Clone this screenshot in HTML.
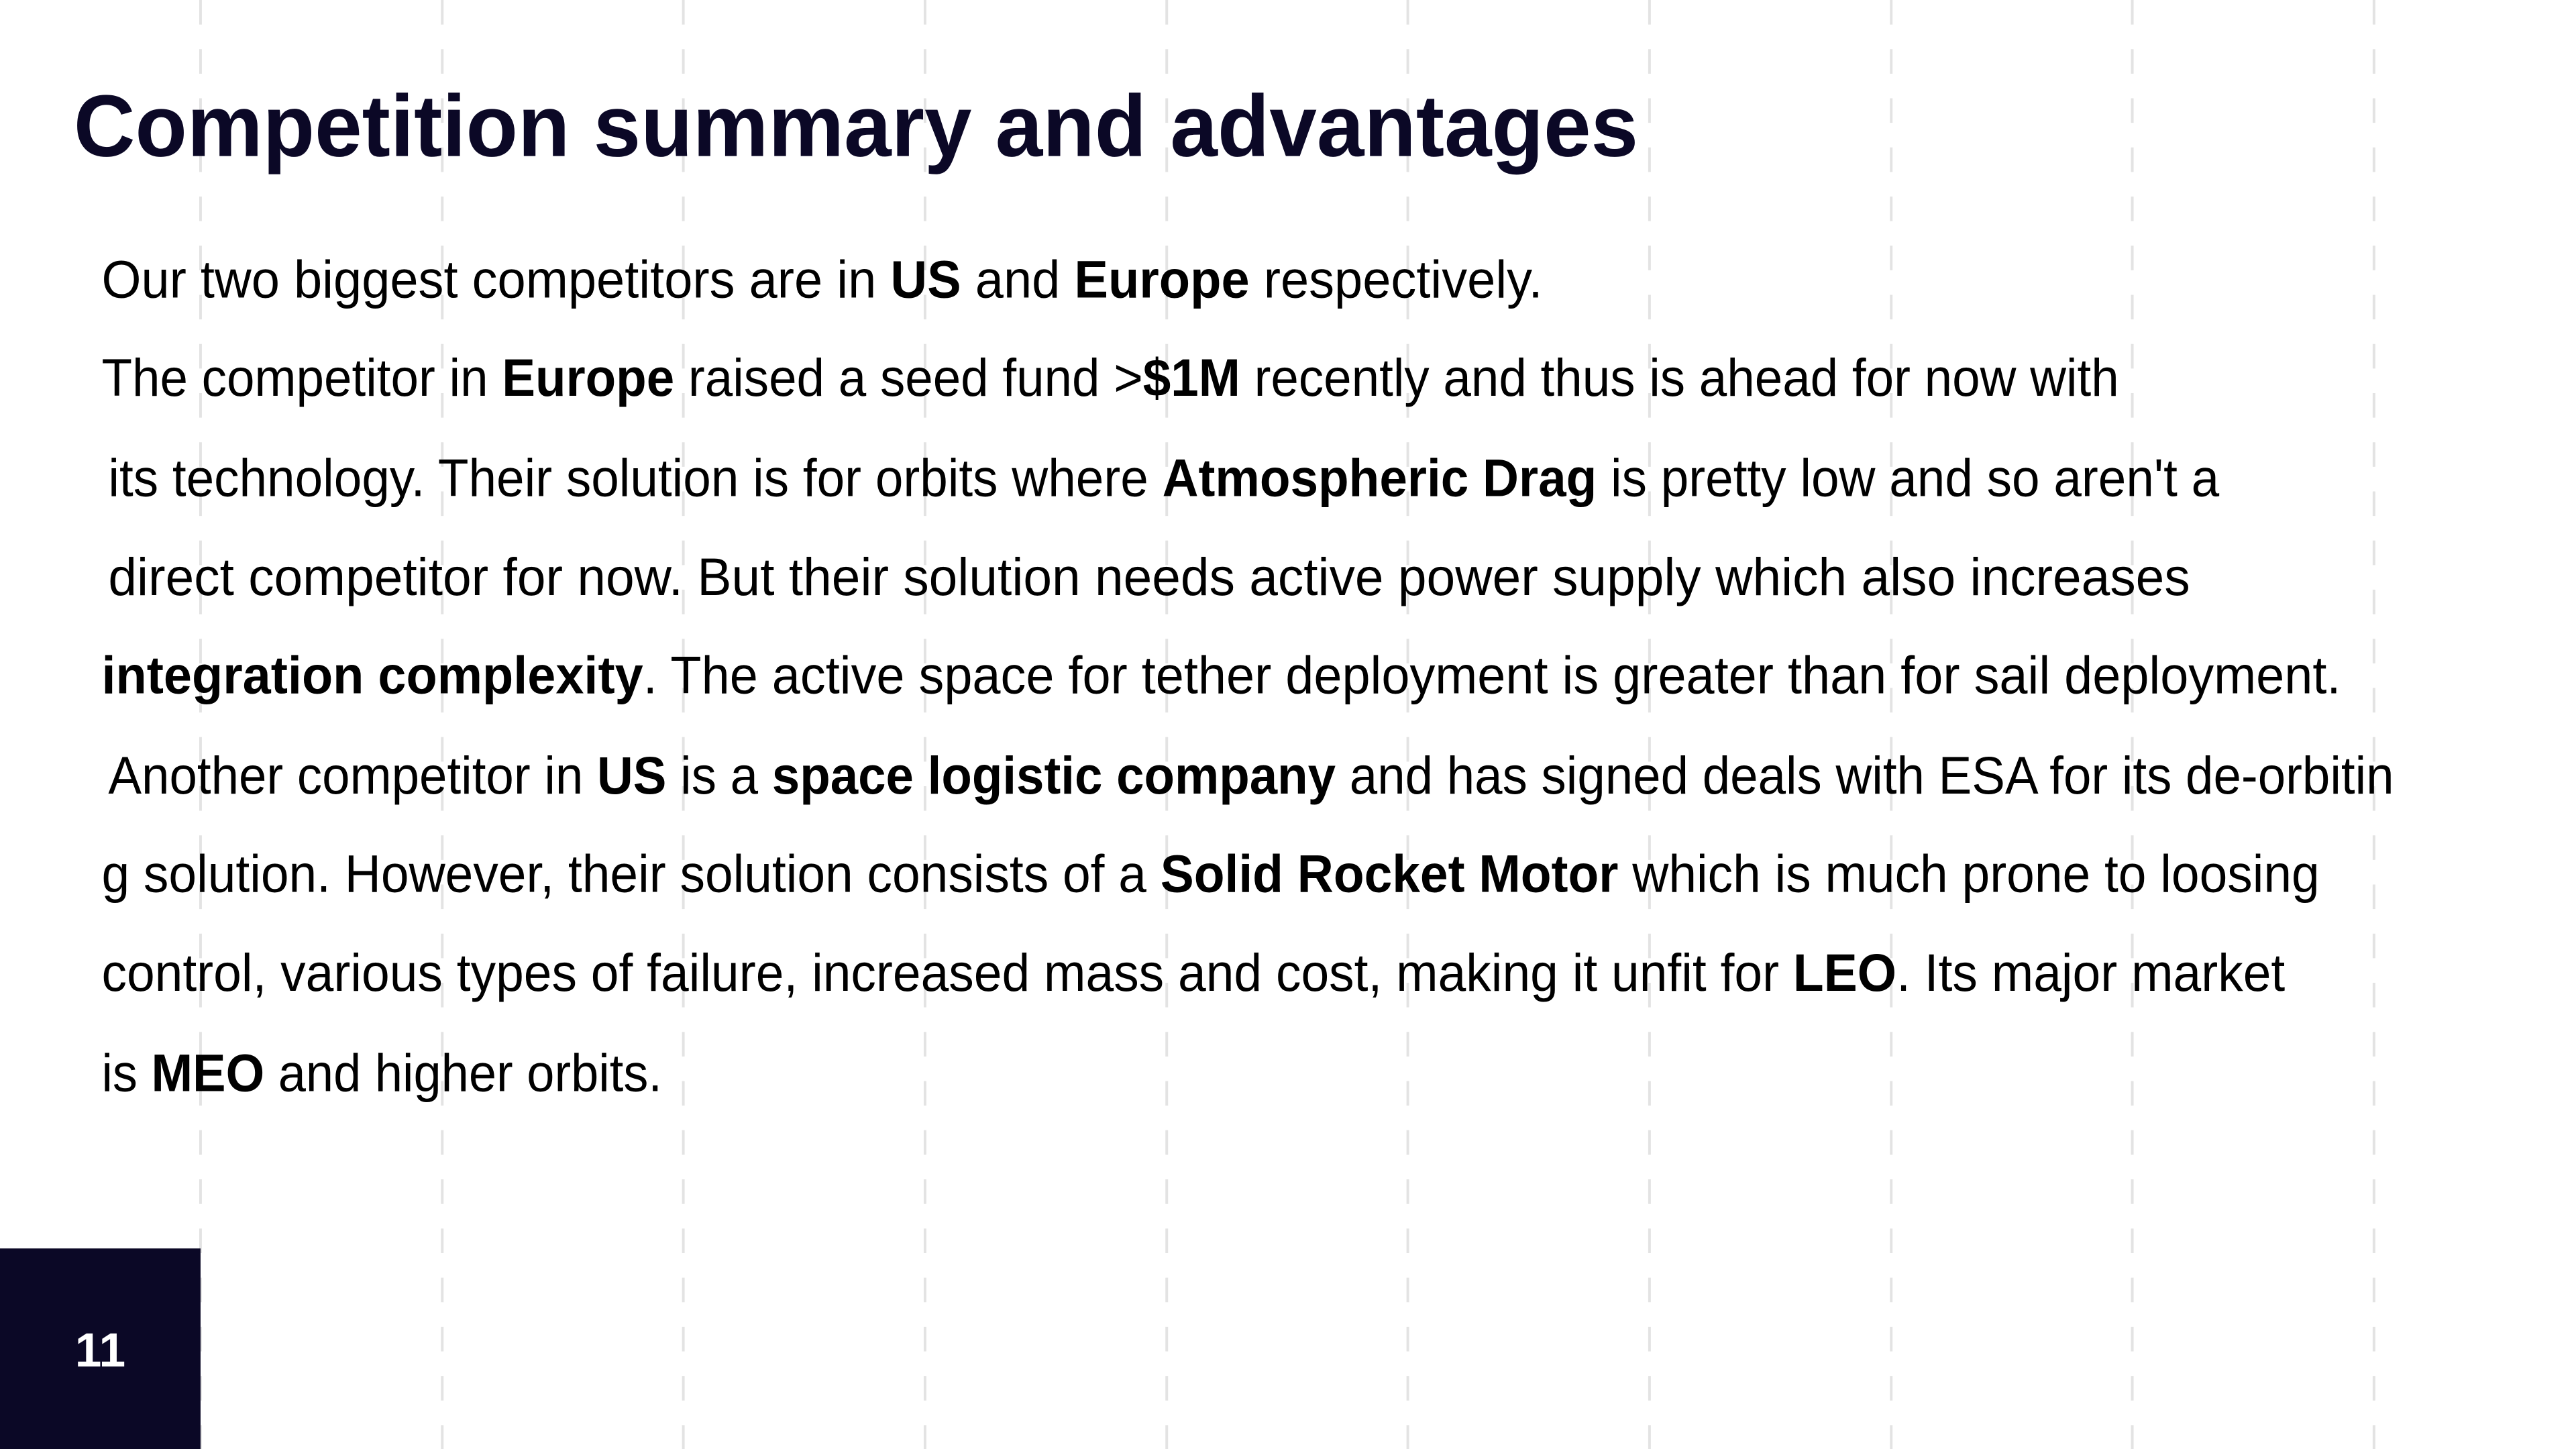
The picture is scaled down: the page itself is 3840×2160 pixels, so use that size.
<!DOCTYPE html>
<html><head><meta charset="utf-8"><style>
html,body{margin:0;padding:0;background:#fff;}
svg{display:block;}
text{font-family:"Liberation Sans",sans-serif;}
</style></head><body>
<svg width="3840" height="2160" viewBox="0 0 3840 2160" xmlns="http://www.w3.org/2000/svg">
<rect width="3840" height="2160" fill="#fff"/>
<g transform="scale(0.9899)">
<g stroke="#e3e3e3" stroke-width="4" stroke-dasharray="37 37">
<line x1="302" y1="0" x2="302" y2="2200"/>
<line x1="666" y1="0" x2="666" y2="2200"/>
<line x1="1029" y1="0" x2="1029" y2="2200"/>
<line x1="1393" y1="0" x2="1393" y2="2200"/>
<line x1="1757" y1="0" x2="1757" y2="2200"/>
<line x1="2120" y1="0" x2="2120" y2="2200"/>
<line x1="2484" y1="0" x2="2484" y2="2200"/>
<line x1="2848" y1="0" x2="2848" y2="2200"/>
<line x1="3211" y1="0" x2="3211" y2="2200"/>
<line x1="3575" y1="0" x2="3575" y2="2200"/>
</g>
<text x="111" y="235" font-size="132" font-weight="bold" fill="#0b0826" textLength="2356" lengthAdjust="spacingAndGlyphs">Competition summary and advantages</text>
<g font-size="80" fill="#000">
<text x="153" y="448" textLength="2170" lengthAdjust="spacingAndGlyphs">Our two biggest competitors are in <tspan font-weight="bold">US</tspan> and <tspan font-weight="bold">Europe</tspan> respectively.</text>
<text x="153" y="596" textLength="3038" lengthAdjust="spacingAndGlyphs">The competitor in <tspan font-weight="bold">Europe</tspan> raised a seed fund &gt;<tspan font-weight="bold">$1M</tspan>  recently and thus is ahead for now with</text>
<text x="163" y="747" textLength="3179" lengthAdjust="spacingAndGlyphs">its technology. Their solution is for orbits where <tspan font-weight="bold">Atmospheric Drag</tspan> is pretty low and so aren't a</text>
<text x="163" y="896" textLength="3135" lengthAdjust="spacingAndGlyphs">direct competitor for now. But their solution needs active power supply which also increases</text>
<text x="153" y="1044" textLength="3372" lengthAdjust="spacingAndGlyphs"><tspan font-weight="bold">integration complexity</tspan>. The active space for tether deployment is greater than for sail deployment.</text>
<text x="163" y="1195" textLength="3442" lengthAdjust="spacingAndGlyphs">Another competitor in <tspan font-weight="bold">US</tspan> is a <tspan font-weight="bold">space logistic company</tspan> and has signed deals with ESA for its de-orbitin</text>
<text x="153" y="1343" textLength="3340" lengthAdjust="spacingAndGlyphs">g solution. However, their solution consists of a <tspan font-weight="bold">Solid Rocket Motor</tspan> which is much prone to loosing</text>
<text x="153" y="1492" textLength="3288" lengthAdjust="spacingAndGlyphs">control, various types of failure, increased mass and cost, making it unfit for <tspan font-weight="bold">LEO</tspan>. Its major market</text>
<text x="153" y="1643" textLength="844" lengthAdjust="spacingAndGlyphs">is <tspan font-weight="bold">MEO</tspan> and higher orbits.</text>
</g>
<rect x="0" y="1880" width="302" height="320" fill="#0b0826"/>
<text x="151" y="2058" font-size="72" font-weight="bold" fill="#fff" text-anchor="middle">11</text>
</g>
</svg>
</body></html>
